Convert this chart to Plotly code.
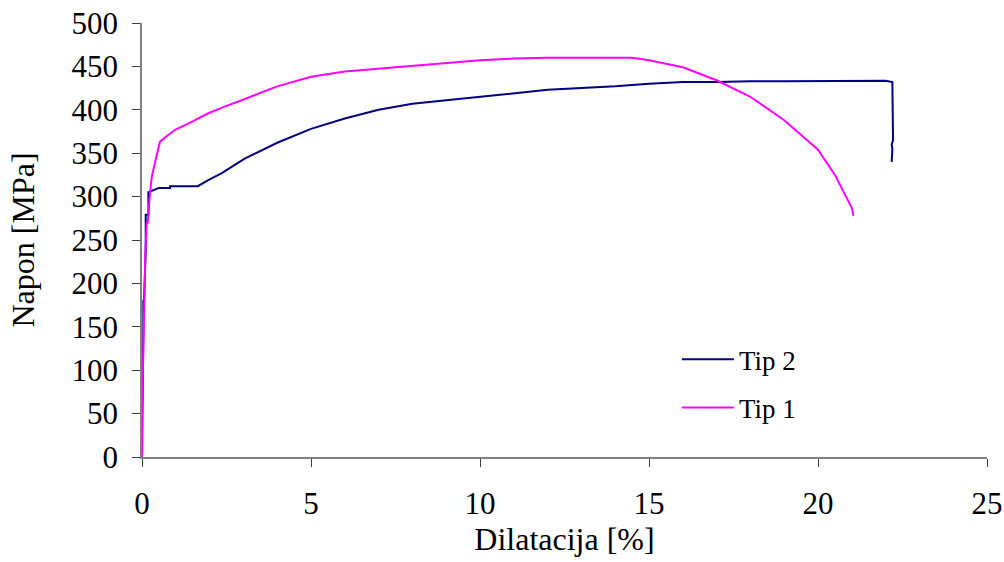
import plotly.graph_objects as go

# Tip 2 (navy)
tip2_x = [0.0, 0.02, 0.04, 0.04, 0.06, 0.11, 0.11, 0.19, 0.19, 0.5, 0.83, 0.83, 1.65,
          1.96, 2.36, 3.05, 4.0, 5.0, 6.0, 7.0, 8.0, 9.0, 10.0, 11.0, 12.0, 13.0, 14.0,
          15.0, 16.0, 17.0, 18.0, 19.0, 20.0, 21.0, 22.0, 22.2, 22.22, 22.18, 22.2, 22.18]
tip2_y = [0, 50, 143, 180, 180, 238, 279, 279, 305, 310, 310, 312, 312,
          319, 327, 344, 362, 378, 390, 400, 407, 411, 415, 419, 423, 425, 427,
          430, 432, 432, 433, 433, 433, 433, 433.5, 432, 365, 360, 355, 340]

# Tip 1 (magenta)
tip1_x = [0.0, 0.0, 0.05, 0.1, 0.14, 0.17, 0.24, 0.29, 0.36, 0.43, 0.53, 0.68, 0.98, 1.47,
          1.96, 2.46, 2.95, 4.0, 5.0, 6.0, 7.5, 9.0, 10.0, 11.0, 12.0, 13.0, 14.5, 15.0,
          16.0, 17.0, 18.0, 19.0, 20.0, 20.5, 21.0, 21.05]
tip1_y = [0, 50, 143, 238, 270, 270, 305, 323, 335, 346, 363, 368, 377, 386,
          396, 404, 411, 427, 438, 444, 449, 454, 457, 459, 460, 460, 460, 457,
          449, 434, 415, 388, 354, 325, 287, 278]

x_ticks = [0, 5, 10, 15, 20, 25]
y_ticks = [0, 50, 100, 150, 200, 250, 300, 350, 400, 450, 500]

font = "Liberation Serif"

fig = go.Figure()
fig.add_trace(go.Scatter(x=tip2_x, y=tip2_y, mode="lines", name="Tip 2",
                         line=dict(color="#000080", width=2), legend="legend"))
fig.add_trace(go.Scatter(x=tip1_x, y=tip1_y, mode="lines", name="Tip 1",
                         line=dict(color="#FF00FF", width=2), legend="legend2"))

leg_common = dict(xanchor="left", yanchor="middle", bgcolor="rgba(0,0,0,0)",
                  font=dict(size=27), itemwidth=52)

fig.update_layout(
    template="none",
    width=1004, height=562,
    margin=dict(l=142, r=17, t=23, b=105),
    paper_bgcolor="white", plot_bgcolor="white",
    font=dict(family=font, size=27, color="black"),
    showlegend=True,
    legend=dict(x=0.633, y=0.224, **leg_common),
    legend2=dict(x=0.633, y=0.113, **leg_common),
    xaxis=dict(range=[0, 25], tickvals=x_ticks, showgrid=False, zeroline=False,
               showline=True, linecolor="#808080", linewidth=1.5,
               ticks="outside", ticklen=8, tickcolor="#404040", tickwidth=1,
               ticklabelstandoff=10, tickfont=dict(size=31),
               automargin=False,
               title=dict(text="Dilatacija [%]", standoff=0)),
    yaxis=dict(range=[0, 500], tickvals=y_ticks, showgrid=False, zeroline=False,
               showline=True, linecolor="#808080", linewidth=1.5,
               ticks="outside", ticklen=8, tickcolor="#404040", tickwidth=1,
               ticklabelstandoff=8, tickfont=dict(size=31),
               automargin=False,
               title=dict(text="Napon [MPa]", standoff=27)),
)

fig.write_html("out.html", config={"displayModeBar": False})

with open("out.html", "r", encoding="utf-8") as f:
    html = f.read()
html = html.replace("<head>", "<head><style>html,body{margin:0;padding:0;overflow:hidden;}</style>", 1)
with open("out.html", "w", encoding="utf-8") as f:
    f.write(html)
